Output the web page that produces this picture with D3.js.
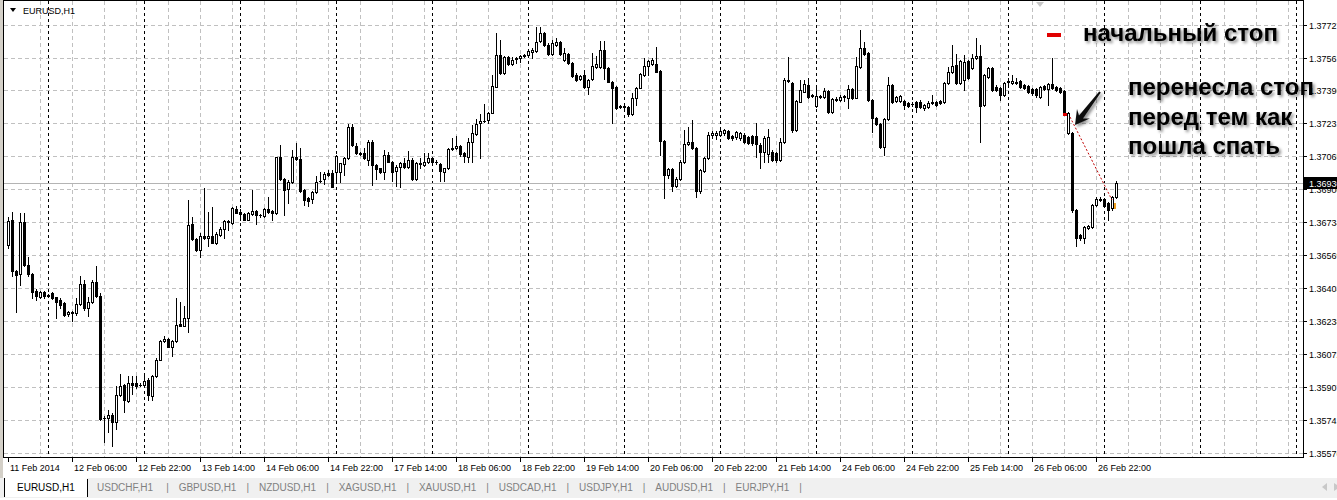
<!DOCTYPE html>
<html><head><meta charset="utf-8">
<script src="https://cdn.jsdelivr.net/npm/d3@7"></script>
<style>body{margin:0;background:#fff;overflow:hidden}svg{display:block}</style>
</head><body><svg id="c" width="1337" height="500"></svg>
<script>
// ---- data (EURUSD H1, bar 0 = 11 Feb 2014 14:00) ----
const opens=[1.36621,1.36746,1.36487,1.36473,1.36734,1.36517,1.36473,1.36390,1.36361,1.36386,1.36370,1.36381,1.36358,1.36345,1.36328,1.36273,1.36281,1.36278,1.36325,1.36423,1.36303,1.36336,1.36433,1.36366,1.35751,1.35751,1.35767,1.35730,1.35864,1.35915,1.35834,1.35926,1.35926,1.35918,1.35918,1.35943,1.35863,1.35960,1.36043,1.36139,1.36147,1.36110,1.36139,1.36224,1.36214,1.36253,1.36724,1.36649,1.36596,1.36667,1.36654,1.36666,1.36632,1.36671,1.36701,1.36738,1.36729,1.36800,1.36788,1.36776,1.36746,1.36776,1.36791,1.36773,1.36768,1.36800,1.36791,1.36780,1.37061,1.36950,1.36900,1.36935,1.37061,1.37051,1.36897,1.36855,1.36850,1.36888,1.36940,1.36950,1.36980,1.36980,1.36989,1.36989,1.37027,1.37056,1.37211,1.37118,1.37082,1.37081,1.37047,1.37139,1.37022,1.37006,1.36989,1.37073,1.37039,1.36994,1.37011,1.37034,1.37011,1.37047,1.36950,1.37032,1.37022,1.37036,1.37059,1.37036,1.37026,1.36989,1.37006,1.37104,1.37106,1.37118,1.37084,1.37064,1.37136,1.37178,1.37231,1.37241,1.37248,1.37285,1.37415,1.37574,1.37482,1.37566,1.37528,1.37553,1.37558,1.37569,1.37574,1.37591,1.37595,1.37645,1.37683,1.37625,1.37578,1.37625,1.37641,1.37549,1.37578,1.37533,1.37474,1.37452,1.37474,1.37415,1.37452,1.37516,1.37516,1.37600,1.37508,1.37441,1.37415,1.37317,1.37317,1.37315,1.37277,1.37360,1.37410,1.37474,1.37521,1.37528,1.37528,1.37494,1.37143,1.36972,1.37002,1.36914,1.36952,1.37036,1.37128,1.37139,1.37109,1.36889,1.36994,1.37056,1.37173,1.37173,1.37173,1.37181,1.37193,1.37165,1.37160,1.37156,1.37173,1.37160,1.37165,1.37168,1.37123,1.37089,1.37076,1.37089,1.37081,1.37047,1.37136,1.37444,1.37432,1.37198,1.37340,1.37390,1.37424,1.37372,1.37320,1.37367,1.37362,1.37394,1.37290,1.37350,1.37349,1.37364,1.37360,1.37402,1.37360,1.37516,1.37611,1.37583,1.37349,1.37260,1.37226,1.37114,1.37252,1.37424,1.37344,1.37344,1.37344,1.37335,1.37330,1.37337,1.37340,1.37310,1.37315,1.37334,1.37337,1.37344,1.37337,1.37432,1.37491,1.37524,1.37436,1.37449,1.37544,1.37508,1.37558,1.37569,1.37323,1.37466,1.37511,1.37415,1.37407,1.37374,1.37439,1.37436,1.37439,1.37444,1.37424,1.37419,1.37402,1.37402,1.37365,1.37419,1.37402,1.37427,1.37415,1.37407,1.37394,1.37181,1.37181,1.36797,1.36668,1.36654,1.36704,1.36708,1.36822,1.36847,1.36852,1.36830,1.36805,1.36863];
const highs=[1.36763,1.36788,1.36495,1.36780,1.36780,1.36562,1.36478,1.36398,1.36391,1.36391,1.36375,1.36386,1.36361,1.36353,1.36336,1.36286,1.36286,1.36353,1.36462,1.36445,1.36361,1.36445,1.36515,1.36378,1.35759,1.35789,1.35776,1.35910,1.35973,1.35923,1.35963,1.35960,1.35963,1.35926,1.35968,1.35951,1.35968,1.36052,1.36144,1.36164,1.36152,1.36144,1.36353,1.36336,1.36314,1.36846,1.36763,1.36654,1.36679,1.36905,1.36788,1.36810,1.36683,1.36709,1.36746,1.36743,1.36810,1.36816,1.36800,1.36780,1.36785,1.36897,1.36796,1.36776,1.36805,1.36863,1.36796,1.37064,1.37123,1.36955,1.36947,1.37097,1.37134,1.37106,1.36900,1.36860,1.36893,1.36964,1.36989,1.36989,1.36997,1.36997,1.37072,1.37034,1.37061,1.37228,1.37228,1.37131,1.37087,1.37106,1.37148,1.37148,1.37026,1.37009,1.37098,1.37089,1.37042,1.37022,1.37039,1.37059,1.37093,1.37056,1.37036,1.37056,1.37081,1.37081,1.37064,1.37047,1.37031,1.37009,1.37106,1.37156,1.37165,1.37123,1.37089,1.37156,1.37223,1.37252,1.37277,1.37329,1.37290,1.37474,1.37683,1.37650,1.37571,1.37571,1.37566,1.37566,1.37574,1.37578,1.37605,1.37608,1.37717,1.37717,1.37692,1.37633,1.37650,1.37658,1.37645,1.37608,1.37583,1.37538,1.37482,1.37474,1.37499,1.37454,1.37583,1.37571,1.37645,1.37645,1.37513,1.37446,1.37421,1.37323,1.37323,1.37320,1.37382,1.37415,1.37482,1.37561,1.37549,1.37558,1.37616,1.37499,1.37148,1.37009,1.37006,1.36959,1.37047,1.37198,1.37215,1.37248,1.37114,1.37002,1.37064,1.37190,1.37193,1.37193,1.37203,1.37203,1.37198,1.37170,1.37193,1.37190,1.37181,1.37165,1.37173,1.37231,1.37131,1.37165,1.37201,1.37098,1.37089,1.37156,1.37457,1.37566,1.37441,1.37349,1.37449,1.37449,1.37457,1.37377,1.37407,1.37374,1.37410,1.37399,1.37360,1.37365,1.37374,1.37374,1.37424,1.37407,1.37566,1.37700,1.37641,1.37588,1.37354,1.37265,1.37231,1.37257,1.37466,1.37427,1.37370,1.37374,1.37349,1.37340,1.37337,1.37344,1.37347,1.37330,1.37344,1.37374,1.37344,1.37349,1.37441,1.37516,1.37625,1.37578,1.37549,1.37574,1.37549,1.37578,1.37658,1.37625,1.37479,1.37516,1.37516,1.37424,1.37412,1.37441,1.37457,1.37474,1.37457,1.37449,1.37429,1.37424,1.37407,1.37407,1.37421,1.37424,1.37432,1.37558,1.37421,1.37412,1.37399,1.37287,1.37186,1.36802,1.36674,1.36713,1.36721,1.36827,1.36863,1.36863,1.36858,1.36835,1.36868,1.36942];
const lows=[1.36604,1.36462,1.36281,1.36420,1.36512,1.36462,1.36353,1.36345,1.36353,1.36353,1.36361,1.36348,1.36253,1.36303,1.36261,1.36261,1.36239,1.36269,1.36320,1.36294,1.36261,1.36331,1.36361,1.35742,1.35629,1.35679,1.35612,1.35695,1.35859,1.35779,1.35829,1.35873,1.35901,1.35910,1.35913,1.35843,1.35843,1.35956,1.36040,1.36135,1.36105,1.36060,1.36135,1.36211,1.36211,1.36181,1.36646,1.36592,1.36559,1.36649,1.36616,1.36629,1.36626,1.36666,1.36654,1.36696,1.36726,1.36780,1.36746,1.36743,1.36743,1.36771,1.36724,1.36763,1.36763,1.36783,1.36746,1.36775,1.36947,1.36771,1.36830,1.36930,1.37047,1.36888,1.36821,1.36816,1.36833,1.36883,1.36937,1.36925,1.36967,1.36910,1.36930,1.36938,1.36972,1.37051,1.37118,1.37077,1.37074,1.37051,1.37022,1.36922,1.36952,1.36981,1.36952,1.37036,1.36939,1.36914,1.36910,1.37006,1.37006,1.36945,1.36945,1.37006,1.37017,1.37031,1.37031,1.37026,1.36942,1.36939,1.37002,1.37098,1.37103,1.37069,1.37039,1.37036,1.37039,1.37173,1.37059,1.37236,1.37231,1.37282,1.37412,1.37477,1.37477,1.37524,1.37524,1.37536,1.37538,1.37566,1.37571,1.37558,1.37591,1.37641,1.37621,1.37574,1.37574,1.37621,1.37574,1.37544,1.37528,1.37466,1.37444,1.37447,1.37410,1.37377,1.37449,1.37511,1.37511,1.37454,1.37437,1.37231,1.37303,1.37307,1.37307,1.37270,1.37273,1.37323,1.37407,1.37471,1.37474,1.37524,1.37487,1.37073,1.36855,1.36955,1.36889,1.36909,1.36947,1.37031,1.37123,1.37101,1.36863,1.36883,1.36989,1.37052,1.37156,1.37153,1.37165,1.37173,1.37153,1.37148,1.37153,1.37148,1.37131,1.37126,1.37123,1.37064,1.37006,1.37036,1.37039,1.37042,1.37039,1.37042,1.37131,1.37437,1.37186,1.37193,1.37337,1.37387,1.37360,1.37364,1.37315,1.37357,1.37357,1.37282,1.37285,1.37344,1.37344,1.37344,1.37307,1.37354,1.37357,1.37511,1.37574,1.37344,1.37186,1.37223,1.37109,1.37073,1.37248,1.37335,1.37337,1.37340,1.37302,1.37313,1.37320,1.37287,1.37310,1.37298,1.37310,1.37327,1.37317,1.37327,1.37332,1.37427,1.37486,1.37427,1.37431,1.37399,1.37452,1.37502,1.37553,1.37139,1.37318,1.37461,1.37394,1.37394,1.37349,1.37370,1.37424,1.37431,1.37427,1.37410,1.37402,1.37382,1.37374,1.37365,1.37360,1.37397,1.37323,1.37402,1.37394,1.37382,1.37277,1.37176,1.36788,1.36617,1.36646,1.36629,1.36699,1.36703,1.36817,1.36842,1.36813,1.36746,1.36797,1.36858];
const closes=[1.36738,1.36487,1.36467,1.36734,1.36517,1.36473,1.36386,1.36365,1.36386,1.36366,1.36366,1.36353,1.36336,1.36320,1.36269,1.36283,1.36279,1.36325,1.36423,1.36303,1.36336,1.36433,1.36366,1.35747,1.35753,1.35767,1.35730,1.35864,1.35910,1.35839,1.35926,1.35918,1.35910,1.35915,1.35938,1.35864,1.35963,1.36043,1.36139,1.36147,1.36110,1.36139,1.36219,1.36214,1.36253,1.36721,1.36649,1.36596,1.36667,1.36654,1.36666,1.36632,1.36676,1.36701,1.36741,1.36734,1.36805,1.36783,1.36775,1.36746,1.36780,1.36791,1.36771,1.36770,1.36800,1.36788,1.36783,1.37061,1.36950,1.36897,1.36938,1.37061,1.37051,1.36893,1.36846,1.36843,1.36888,1.36938,1.36943,1.36977,1.36972,1.36913,1.37067,1.37030,1.37056,1.37211,1.37123,1.37081,1.37079,1.37056,1.37136,1.37022,1.37002,1.36989,1.37073,1.37039,1.36989,1.37014,1.37034,1.37011,1.37047,1.36950,1.37031,1.37029,1.37039,1.37059,1.37036,1.37039,1.36992,1.37006,1.37101,1.37108,1.37118,1.37076,1.37067,1.37139,1.37181,1.37228,1.37243,1.37245,1.37285,1.37419,1.37574,1.37482,1.37566,1.37528,1.37549,1.37558,1.37569,1.37574,1.37595,1.37600,1.37641,1.37683,1.37625,1.37578,1.37636,1.37641,1.37578,1.37583,1.37533,1.37469,1.37449,1.37469,1.37415,1.37449,1.37521,1.37528,1.37600,1.37508,1.37441,1.37410,1.37310,1.37313,1.37313,1.37277,1.37357,1.37410,1.37477,1.37521,1.37544,1.37549,1.37491,1.37143,1.36972,1.37002,1.36914,1.36952,1.37039,1.37128,1.37139,1.37106,1.36889,1.36997,1.37056,1.37173,1.37185,1.37185,1.37193,1.37196,1.37156,1.37156,1.37186,1.37181,1.37139,1.37131,1.37131,1.37126,1.37086,1.37156,1.37160,1.37047,1.37047,1.37136,1.37449,1.37449,1.37198,1.37344,1.37399,1.37427,1.37365,1.37369,1.37370,1.37364,1.37394,1.37290,1.37354,1.37354,1.37365,1.37367,1.37402,1.37360,1.37519,1.37608,1.37578,1.37349,1.37260,1.37226,1.37114,1.37252,1.37424,1.37340,1.37365,1.37369,1.37323,1.37318,1.37327,1.37315,1.37315,1.37323,1.37335,1.37337,1.37323,1.37332,1.37432,1.37491,1.37521,1.37432,1.37544,1.37541,1.37457,1.37558,1.37569,1.37320,1.37474,1.37511,1.37399,1.37399,1.37374,1.37436,1.37442,1.37444,1.37436,1.37415,1.37407,1.37390,1.37382,1.37374,1.37415,1.37402,1.37427,1.37407,1.37399,1.37390,1.37282,1.37282,1.36797,1.36654,1.36654,1.36708,1.36716,1.36822,1.36850,1.36852,1.36818,1.36797,1.36863,1.36930];
const timeLabels=["11 Feb 2014","12 Feb 06:00","12 Feb 22:00","13 Feb 14:00","14 Feb 06:00","14 Feb 22:00","17 Feb 14:00","18 Feb 06:00","18 Feb 22:00","19 Feb 14:00","20 Feb 06:00","20 Feb 22:00","21 Feb 14:00","24 Feb 06:00","24 Feb 22:00","25 Feb 14:00","26 Feb 06:00","26 Feb 22:00"];
const timeLabelBars=[0,16,32,48,64,80,96,112,128,144,160,176,192,208,224,240,256,272];
const daySeparatorBars=[10,34,58,82,106,130,154,178,202,226,250,274,298,322];
const priceTicks=[1.35576,1.35741,1.35907,1.36072,1.36238,1.36403,1.36569,1.36734,1.36900,1.37065,1.37231,1.37396,1.37561,1.37727];
const lastPrice=1.36930;
const symbolTitle="EURUSD,H1";
const tabs=["EURUSD,H1","USDCHF,H1","GBPUSD,H1","NZDUSD,H1","XAGUSD,H1","XAUUSD,H1","USDCAD,H1","USDJPY,H1","AUDUSD,H1","EURJPY,H1"];
const legendText="начальный стоп";
const noteLines=["перенесла стоп","перед тем как","пошла спать"];

// ---- drawing ----
const svg=d3.select("#c");
const P={l:4,t:1,r:1303,b:457};
const x=d3.scaleLinear().domain([0,277]).range([8,1116]);
const y=d3.scaleLinear().domain([1.35570,1.37720]).range([454,26]);
const font="'Liberation Sans',Arial,sans-serif";

const defs=svg.append("defs");
const f=defs.append("filter").attr("id","sh").attr("x","-10%").attr("y","-30%").attr("width","130%").attr("height","170%");
f.append("feDropShadow").attr("dx",2).attr("dy",2).attr("stdDeviation",1.4).attr("flood-color","#000").attr("flood-opacity",0.45);

svg.append("rect").attr("width",1337).attr("height",500).attr("fill","#fff");
svg.append("rect").attr("x",0).attr("y",0).attr("width",3).attr("height",478).attr("fill","#d4d0c8");

const g=svg.append("g").attr("shape-rendering","crispEdges");
g.selectAll("line.hg").data(priceTicks).join("line")
  .attr("x1",P.l).attr("x2",P.r).attr("y1",d=>Math.round(y(d))+0.5).attr("y2",d=>Math.round(y(d))+0.5)
  .attr("stroke","#c0c0c0").attr("stroke-dasharray","4,3");
const vg=d3.range(8,330,8).filter(i=>x(i)<P.r);
g.selectAll("line.vg").data(vg).join("line")
  .attr("x1",d=>x(d)+0.5).attr("x2",d=>x(d)+0.5).attr("y1",P.t).attr("y2",P.b)
  .attr("stroke","#c0c0c0").attr("stroke-dasharray","4,3");
g.selectAll("line.sep").data(daySeparatorBars.filter(i=>x(i)<P.r)).join("line")
  .attr("x1",d=>x(d)+0.5).attr("x2",d=>x(d)+0.5).attr("y1",P.t).attr("y2",P.b)
  .attr("stroke","#000").attr("stroke-dasharray","3,3");
g.append("line").attr("x1",P.l).attr("x2",P.r).attr("y1",Math.round(y(lastPrice))+0.5).attr("y2",Math.round(y(lastPrice))+0.5)
  .attr("stroke","#b4b4b4");

const bars=d3.range(opens.length);
const cg=g.append("g");
bars.forEach(i=>{
  const cx=Math.round(x(i));
  const yh=Math.round(y(highs[i])), yl=Math.round(y(lows[i]));
  const yo=Math.round(y(opens[i])), yc=Math.round(y(closes[i]));
  const top=Math.min(yo,yc), bot=Math.max(yo,yc);
  cg.append("rect").attr("x",cx).attr("y",yh).attr("width",1).attr("height",yl-yh+1).attr("fill","#000");
  cg.append("rect").attr("x",cx-1).attr("y",top).attr("width",3).attr("height",bot-top+1).attr("fill","#000");
  if(closes[i]>opens[i] && bot-top>=2){
    cg.append("rect").attr("x",cx).attr("y",top+1).attr("width",1).attr("height",bot-top-1).attr("fill","#fff");
  }
});

g.append("rect").attr("x",P.l-0.5).attr("y",P.t-0.5).attr("width",P.r-P.l+1).attr("height",P.b-P.t+1)
  .attr("fill","none").attr("stroke","#000");

const ra=g.append("g");
ra.selectAll("line").data(priceTicks).join("line")
  .attr("x1",P.r).attr("x2",P.r+4).attr("y1",d=>Math.round(y(d))+0.5).attr("y2",d=>Math.round(y(d))+0.5).attr("stroke","#000");
svg.append("g").selectAll("text").data(priceTicks).join("text")
  .attr("x",P.r+6).attr("y",d=>Math.round(y(d))+3.5).attr("font-family",font).attr("font-size",9).attr("fill","#000")
  .text(d=>d3.format(".5f")(d));
const yb=Math.round(y(lastPrice));
svg.append("rect").attr("x",P.r+1).attr("y",yb-6).attr("width",40).attr("height",12).attr("fill","#000");
svg.append("text").attr("x",P.r+6).attr("y",yb+3.5).attr("font-family",font).attr("font-size",9).attr("fill","#fff").text(d3.format(".5f")(lastPrice));

g.selectAll("line.tt").data(timeLabelBars).join("line")
  .attr("x1",d=>x(d)+0.5).attr("x2",d=>x(d)+0.5).attr("y1",P.b).attr("y2",P.b+5).attr("stroke","#000");
svg.append("g").selectAll("text").data(timeLabels).join("text")
  .attr("x",(d,i)=>x(timeLabelBars[i])+2).attr("y",471).attr("font-family",font).attr("font-size",9).attr("fill","#000").text(d=>d);

svg.append("path").attr("d","M10,8 L16,8 L13,12 Z").attr("fill","#000");
svg.append("text").attr("x",23).attr("y",14).attr("font-family",font).attr("font-size",9).attr("fill","#000").text(symbolTitle);
svg.append("path").attr("d","M1036,2 L1044,2 L1040,7 Z").attr("fill","#c8c8c8");

svg.append("rect").attr("x",0).attr("y",478).attr("width",1337).attr("height",20).attr("fill","#f0f0f0");
g.append("line").attr("x1",0).attr("x2",1337).attr("y1",478.5).attr("y2",478.5).attr("stroke","#000");
svg.append("rect").attr("x",0).attr("y",498).attr("width",1337).attr("height",2).attr("fill","#fff");
let tx=17;
const tg=svg.append("g");
tabs.forEach((t,i)=>{
  const tt=tg.append("text").attr("x",tx).attr("y",491).attr("font-family",font).attr("font-size",10)
    .attr("fill",i===0?"#000":"#808080").text(t);
  const w=tt.node().getComputedTextLength();
  if(i===0){
    tg.insert("rect","text").attr("x",4).attr("y",478).attr("width",83).attr("height",19).attr("fill","#fff");
    tg.append("path").attr("d","M4.5,478 V497 M87.5,479 V497").attr("stroke","#000").attr("shape-rendering","crispEdges");
    tx=97;
  } else {
    const sx=tx+w+(i===1?13:10);
    tg.append("text").attr("x",sx).attr("y",491).attr("font-family",font).attr("font-size",10).attr("fill","#808080").text("|");
    tx=sx+12.5;
  }
});
svg.append("path").attr("d","M1322,487 L1327,483 L1327,491 Z").attr("fill","#c8c8c8");
svg.append("path").attr("d","M1334,483 L1334,491 L1337,489 L1337,485 Z").attr("fill","#c8c8c8");

svg.append("rect").attr("x",1047).attr("y",33).attr("width",14).attr("height",4).attr("fill","#e00000");
svg.append("text").attr("x",1083).attr("y",41).attr("font-family",font).attr("font-weight","bold").attr("font-size",24)
  .attr("fill","#000").attr("filter","url(#sh)").text(legendText);
svg.append("g").selectAll("text").data(noteLines).join("text")
  .attr("x",1128).attr("y",(d,i)=>95+i*29.5).attr("font-family",font).attr("font-weight","bold").attr("font-size",24)
  .attr("fill","#000").attr("filter","url(#sh)").text(d=>d);
svg.append("rect").attr("x",1063).attr("y",113).attr("width",4).attr("height",3).attr("fill","#e00000");
svg.append("line").attr("x1",1070).attr("y1",117).attr("x2",1112).attr("y2",200)
  .attr("stroke","#c00000").attr("stroke-dasharray","2,2");
svg.append("rect").attr("x",1114).attr("y",203).attr("width",2).attr("height",6).attr("fill","#f0a020");
svg.append("path").attr("d","M1075,125 L1089.8,118.6 L1083,118.5 L1100.8,92.6 L1099.2,91.4 L1079,115.5 L1077,109 Z")
  .attr("fill","#111").attr("filter","url(#sh)");
</script></body></html>
